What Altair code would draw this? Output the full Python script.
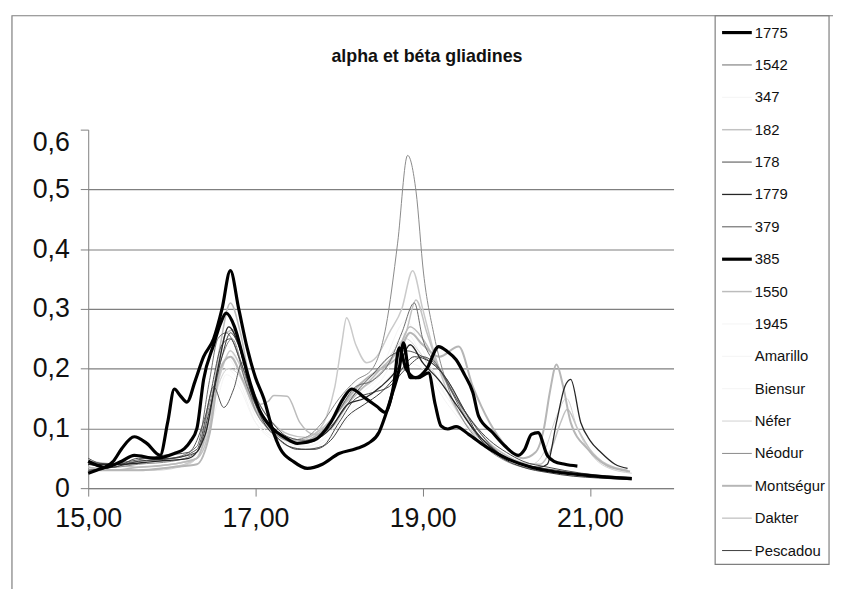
import altair as alt
import pandas as pd

# ---------------- series (legend order) ----------------
NAMES = ["1775", "1542", "347", "182", "178", "1779", "379", "385", "1550",
         "1945", "Amarillo", "Biensur", "Néfer", "Néodur", "Montségur",
         "Dakter", "Pescadou"]
TITLE = "alpha et béta gliadines"

# ---------------- data (retention time x, absorbance y) ----------------
X_1775 = [15.0, 15.1, 15.2, 15.3, 15.4, 15.55, 15.7, 15.86, 15.95, 16.03, 16.1, 16.18,
          16.28, 16.38, 16.5, 16.6, 16.7, 16.8, 16.9, 17.0, 17.1, 17.2, 17.3, 17.45,
          17.62, 17.8, 18.0, 18.2, 18.35, 18.48, 18.55, 18.64, 18.72, 18.77, 18.85,
          18.95, 19.07, 19.15, 19.22, 19.3, 19.4, 19.55, 19.75, 20.0, 20.3, 20.6, 21.0, 21.5]
Y_1775 = [0.025, 0.03, 0.035, 0.045, 0.066, 0.086, 0.075, 0.055, 0.11, 0.166, 0.155, 0.144,
          0.18, 0.22, 0.25, 0.3, 0.364, 0.3, 0.235, 0.185, 0.15, 0.1, 0.065, 0.045,
          0.033, 0.04, 0.058, 0.066, 0.075, 0.094, 0.12, 0.16, 0.2, 0.243, 0.185,
          0.185, 0.193, 0.14, 0.104, 0.099, 0.103, 0.09, 0.07, 0.05, 0.035, 0.027, 0.021, 0.016]

X_385 = [15.0, 15.2, 15.4, 15.55, 15.8, 16.03, 16.15, 16.22, 16.3, 16.38, 16.5, 16.58,
         16.65, 16.75, 16.85, 16.95, 17.05, 17.2, 17.35, 17.5, 17.7, 17.9, 18.05, 18.15,
         18.3, 18.45, 18.55, 18.65, 18.72, 18.8, 18.92, 19.05, 19.19, 19.3, 19.4, 19.5,
         19.6, 19.67, 19.83, 19.98, 20.14, 20.22, 20.3, 20.38, 20.49, 20.57, 20.7, 20.85]
Y_385 = [0.045, 0.035, 0.045, 0.055, 0.05, 0.058, 0.066, 0.078, 0.1, 0.182, 0.24, 0.275,
         0.293, 0.27, 0.22, 0.17, 0.13, 0.1, 0.085, 0.075, 0.08, 0.11, 0.15, 0.166,
         0.152, 0.137, 0.127, 0.17, 0.235, 0.2, 0.185, 0.2, 0.237, 0.228, 0.215, 0.19,
         0.16, 0.12, 0.094, 0.071, 0.055, 0.065, 0.09, 0.093, 0.055, 0.045, 0.04, 0.037]

X_1542 = [15.0, 15.3, 15.6, 16.0, 16.3, 16.45, 16.55, 16.65, 16.75, 16.9, 17.0, 17.2,
          17.4, 17.6, 17.8, 18.0, 18.2, 18.4, 18.6, 18.75, 18.9, 19.0, 19.2, 19.35,
          19.5, 19.7, 20.0, 20.3, 20.7, 21.0, 21.5]
Y_1542 = [0.045, 0.04, 0.045, 0.05, 0.07, 0.18, 0.25, 0.26, 0.24, 0.17, 0.14, 0.1,
          0.08, 0.075, 0.09, 0.13, 0.17, 0.18, 0.21, 0.26, 0.31, 0.25, 0.2, 0.16,
          0.12, 0.08, 0.05, 0.035, 0.025, 0.02, 0.015]

X_178 = [15.0, 15.3, 15.6, 16.0, 16.3, 16.45, 16.6, 16.7, 16.8, 17.0, 17.2, 17.4,
         17.6, 17.8, 18.0, 18.2, 18.4, 18.6, 18.8, 19.0, 19.2, 19.4, 19.6, 19.8,
         20.0, 20.2, 20.5, 20.9, 21.5]
Y_178 = [0.04, 0.035, 0.05, 0.05, 0.065, 0.15, 0.24, 0.25, 0.22, 0.145, 0.095, 0.07,
         0.065, 0.07, 0.11, 0.15, 0.16, 0.17, 0.2, 0.22, 0.2, 0.15, 0.11, 0.08,
         0.06, 0.045, 0.035, 0.025, 0.018]

X_1779 = [15.0, 15.4, 15.8, 16.2, 16.4, 16.55, 16.68, 16.8, 16.95, 17.1, 17.3, 17.5,
          17.7, 17.9, 18.1, 18.3, 18.5, 18.7, 18.85, 19.0, 19.2, 19.4, 19.6, 19.8,
          20.0, 20.2, 20.4, 20.49, 20.6, 20.7, 20.77, 20.89, 21.0, 21.13, 21.3, 21.45]
Y_1779 = [0.04, 0.04, 0.045, 0.05, 0.09, 0.2, 0.27, 0.24, 0.16, 0.12, 0.09, 0.075,
          0.08, 0.1, 0.14, 0.15, 0.17, 0.2, 0.24, 0.21, 0.18, 0.14, 0.1, 0.07,
          0.05, 0.04, 0.035, 0.04, 0.11, 0.17, 0.182, 0.11, 0.08, 0.06, 0.04, 0.033]

X_379 = [15.0, 15.2, 15.5, 15.9, 16.2, 16.4, 16.5, 16.62, 16.74, 16.84, 16.95, 17.05,
         17.2, 17.4, 17.6, 17.8, 18.0, 18.2, 18.4, 18.6, 18.8, 19.0, 19.25, 19.5,
         19.7, 19.9, 20.2, 20.6, 21.0, 21.5]
Y_379 = [0.05, 0.04, 0.045, 0.055, 0.06, 0.12, 0.17, 0.135, 0.166, 0.21, 0.17, 0.14,
         0.11, 0.085, 0.08, 0.09, 0.12, 0.16, 0.19, 0.22, 0.23, 0.22, 0.19, 0.13,
         0.09, 0.06, 0.04, 0.03, 0.022, 0.017]

X_182 = [15.0, 15.3, 15.6, 16.0, 16.3, 16.45, 16.55, 16.65, 16.75, 16.9, 17.05, 17.2,
         17.4, 17.6, 17.8, 18.0, 18.2, 18.4, 18.6, 18.8, 18.92, 19.05, 19.2, 19.4,
         19.6, 19.8, 20.0, 20.2, 20.4, 20.55, 20.65, 20.73, 20.85, 21.0, 21.2, 21.45]
Y_182 = [0.045, 0.04, 0.035, 0.04, 0.05, 0.1, 0.2, 0.26, 0.265, 0.19, 0.14, 0.11,
         0.09, 0.085, 0.1, 0.13, 0.16, 0.18, 0.21, 0.26, 0.315, 0.26, 0.2, 0.15,
         0.11, 0.075, 0.055, 0.042, 0.04, 0.07, 0.11, 0.132, 0.1, 0.065, 0.04, 0.03]

X_1550 = [15.0, 15.3, 15.6, 16.0, 16.3, 16.45, 16.58, 16.7, 16.82, 16.95, 17.05, 17.15,
          17.22, 17.38, 17.53, 17.7, 17.9, 18.1, 18.3, 18.5, 18.7, 18.85, 19.0, 19.2,
          19.4, 19.6, 19.8, 20.0, 20.3, 20.6, 21.0, 21.5]
Y_1550 = [0.035, 0.03, 0.035, 0.04, 0.05, 0.12, 0.24, 0.31, 0.26, 0.17, 0.14, 0.145,
          0.155, 0.154, 0.11, 0.09, 0.1, 0.14, 0.17, 0.2, 0.23, 0.27, 0.25, 0.2,
          0.15, 0.1, 0.07, 0.05, 0.035, 0.028, 0.022, 0.017]

X_NEFER = [15.0, 15.4, 15.8, 16.2, 16.4, 16.55, 16.68, 16.8, 17.0, 17.2, 17.4, 17.6,
           17.8, 18.0, 18.2, 18.4, 18.6, 18.8, 18.95, 19.1, 19.3, 19.5, 19.7, 20.0,
           20.3, 20.45, 20.6, 20.72, 20.85, 21.0, 21.2, 21.5]
Y_NEFER = [0.035, 0.03, 0.03, 0.04, 0.08, 0.17, 0.2, 0.19, 0.13, 0.1, 0.085, 0.08,
           0.1, 0.13, 0.17, 0.19, 0.22, 0.25, 0.23, 0.2, 0.16, 0.12, 0.085, 0.055,
           0.04, 0.06, 0.12, 0.15, 0.1, 0.06, 0.035, 0.025]

X_NEODUR = [15.0, 15.3, 15.6, 16.0, 16.3, 16.45, 16.6, 16.72, 16.85, 17.0, 17.2, 17.4,
            17.6, 17.8, 18.0, 18.2, 18.4, 18.56, 18.7, 18.82, 18.92, 19.01, 19.13, 19.3,
            19.5, 19.7, 20.0, 20.3, 20.6, 21.0, 21.5]
Y_NEODUR = [0.04, 0.035, 0.04, 0.045, 0.06, 0.14, 0.22, 0.25, 0.2, 0.13, 0.095, 0.08,
            0.085, 0.11, 0.15, 0.18, 0.2, 0.27, 0.41, 0.557, 0.497, 0.36, 0.26, 0.17,
            0.11, 0.075, 0.045, 0.032, 0.026, 0.02, 0.016]

X_MONTSEGUR = [15.0, 15.3, 15.6, 16.0, 16.3, 16.45, 16.58, 16.7, 16.85, 17.0, 17.15, 17.3,
               17.5, 17.7, 17.9, 18.1, 18.3, 18.5, 18.7, 18.85, 19.0, 19.2, 19.43, 19.6,
               19.8, 20.0, 20.2, 20.35, 20.45, 20.52, 20.6, 20.68, 20.77, 20.97, 21.2, 21.48]
Y_MONTSEGUR = [0.03, 0.03, 0.03, 0.035, 0.04, 0.09, 0.2, 0.22, 0.18, 0.13, 0.1, 0.085,
               0.075, 0.085, 0.11, 0.15, 0.18, 0.2, 0.22, 0.26, 0.24, 0.22, 0.237, 0.17,
               0.11, 0.07, 0.05, 0.06, 0.1, 0.16, 0.207, 0.17, 0.11, 0.066, 0.038, 0.028]

X_DAKTER = [15.0, 15.3, 15.6, 16.0, 16.3, 16.45, 16.6, 16.7, 16.8, 16.95, 17.1, 17.3,
            17.5, 17.7, 17.85, 17.95, 18.03, 18.09, 18.2, 18.33, 18.45, 18.6, 18.75, 18.88,
            19.0, 19.15, 19.3, 19.5, 19.8, 20.1, 20.4, 20.8, 21.2, 21.5]
Y_DAKTER = [0.035, 0.03, 0.03, 0.035, 0.05, 0.12, 0.2, 0.23, 0.21, 0.15, 0.11, 0.09,
            0.08, 0.09, 0.12, 0.17, 0.24, 0.285, 0.24, 0.21, 0.22, 0.26, 0.3, 0.364,
            0.3, 0.22, 0.16, 0.11, 0.07, 0.045, 0.033, 0.025, 0.02, 0.017]

X_PESCADOU = [15.0, 15.3, 15.6, 16.0, 16.3, 16.45, 16.6, 16.7, 16.82, 16.95, 17.1, 17.3,
              17.5, 17.7, 17.9, 18.1, 18.3, 18.5, 18.7, 18.9, 19.1, 19.3, 19.5, 19.7,
              19.9, 20.2, 20.5, 20.8, 21.1, 21.5]
Y_PESCADOU = [0.03, 0.035, 0.045, 0.05, 0.06, 0.13, 0.22, 0.26, 0.23, 0.16, 0.11, 0.08,
              0.065, 0.065, 0.08, 0.12, 0.14, 0.16, 0.19, 0.22, 0.21, 0.18, 0.13, 0.08,
              0.055, 0.035, 0.026, 0.02, 0.017, 0.014]

X_PALE = [15.0, 15.5, 16.0, 16.3, 16.5, 16.65, 16.8, 17.0, 17.3, 17.6, 17.9, 18.2,
          18.5, 18.8, 19.0, 19.3, 19.6, 20.0, 20.5, 21.0, 21.5]
Y_347 = [0.04, 0.035, 0.04, 0.06, 0.16, 0.22, 0.19, 0.12, 0.08, 0.07, 0.09, 0.14,
         0.18, 0.24, 0.21, 0.15, 0.1, 0.05, 0.03, 0.022, 0.017]
Y_1945 = [0.035, 0.03, 0.035, 0.05, 0.14, 0.2, 0.18, 0.11, 0.075, 0.065, 0.085, 0.13,
          0.17, 0.21, 0.2, 0.14, 0.09, 0.048, 0.03, 0.021, 0.016]
Y_AMARILLO = [0.04, 0.035, 0.04, 0.055, 0.15, 0.24, 0.2, 0.13, 0.085, 0.075, 0.1, 0.15,
              0.19, 0.26, 0.22, 0.16, 0.1, 0.052, 0.032, 0.023, 0.017]
Y_BIENSUR = [0.03, 0.03, 0.035, 0.05, 0.12, 0.19, 0.17, 0.11, 0.08, 0.07, 0.095, 0.16,
             0.2, 0.28, 0.23, 0.15, 0.095, 0.05, 0.03, 0.021, 0.016]

SERIES_X = {"1775": X_1775, "1542": X_1542, "347": X_PALE, "182": X_182, "178": X_178,
            "1779": X_1779, "379": X_379, "385": X_385, "1550": X_1550, "1945": X_PALE,
            "Amarillo": X_PALE, "Biensur": X_PALE, "Néfer": X_NEFER, "Néodur": X_NEODUR,
            "Montségur": X_MONTSEGUR, "Dakter": X_DAKTER, "Pescadou": X_PESCADOU}
SERIES_Y = {"1775": Y_1775, "1542": Y_1542, "347": Y_347, "182": Y_182, "178": Y_178,
            "1779": Y_1779, "379": Y_379, "385": Y_385, "1550": Y_1550, "1945": Y_1945,
            "Amarillo": Y_AMARILLO, "Biensur": Y_BIENSUR, "Néfer": Y_NEFER, "Néodur": Y_NEODUR,
            "Montségur": Y_MONTSEGUR, "Dakter": Y_DAKTER, "Pescadou": Y_PESCADOU}

Y_TICKS = [0, 0.1, 0.2, 0.3, 0.4, 0.5, 0.6]
X_TICKS = [15, 17, 19, 21]

# ---------------- styles ----------------
COLORS = ["#000000", "#6a6a6a", "#f4f4f4", "#c2c2c2", "#4a4a4a", "#262626", "#555555",
          "#000000", "#bcbcbc", "#f4f4f4", "#f4f4f4", "#f4f4f4", "#d0d0d0", "#8a8a8a",
          "#b6b6b6", "#cacaca", "#3c3c3c"]
WIDTHS = [3.2, 1.0, 1.0, 1.5, 1.0, 1.3, 1.0, 3.2, 1.5, 1.0, 1.0, 1.0, 1.0, 1.0, 2.0, 1.5, 1.0]
DRAW_ORDER = ["347", "1945", "Amarillo", "Biensur", "Néfer", "Dakter", "182", "1550",
              "Montségur", "Néodur", "1542", "379", "178", "Pescadou", "1779", "385", "1775"]

rows = []
for order, name in enumerate(DRAW_ORDER):
    w = WIDTHS[NAMES.index(name)]
    for xv, yv in zip(SERIES_X[name], SERIES_Y[name]):
        rows.append({"series": name, "t": xv, "v": yv, "w": w, "o": order})
df = pd.DataFrame(rows)
leg_df = pd.DataFrame({"series": NAMES, "w": WIDTHS})

FONT = "Liberation Sans"
NARROW = "Liberation Sans Narrow, Arial Narrow, Liberation Sans"
GRAY = "#7f7f7f"

color_scale = alt.Scale(domain=NAMES, range=COLORS)

lines = alt.Chart(df).mark_line(interpolate="monotone", strokeJoin="round").encode(
    x=alt.X("t:Q", scale=alt.Scale(domain=[15, 22], nice=False, zero=False),
            axis=alt.Axis(values=X_TICKS, title=None, grid=False, tickSize=8,
                          labelPadding=10, labelFontSize=27, labelFont=FONT,
                          labelColor="#111111", labelFlush=False,
                          labelExpr="replace(format(datum.value, '.2f'), '.', ',')")),
    y=alt.Y("v:Q", scale=alt.Scale(domain=[0, 0.6], nice=False),
            axis=alt.Axis(values=Y_TICKS, title=None, grid=True, tickSize=8,
                          labelPadding=11, labelFontSize=27, labelFont=FONT,
                          labelColor="#111111", labelFlush=False,
                          labelBaseline={"condition": {"test": "datum.value > 0.55",
                                                       "value": "top"},
                                         "value": "middle"},
                          gridOpacity={"condition": {"test": "datum.value > 0.55", "value": 0},
                                       "value": 1},
                          labelExpr="datum.value == 0 ? '0' : replace(format(datum.value, '.1f'), '.', ',')")),
    color=alt.Color("series:N", scale=color_scale, legend=None),
    strokeWidth=alt.StrokeWidth("w:Q", scale=None, legend=None),
    order=alt.Order("o:Q"),
    detail="series:N",
)

# outer frame of the chart object
frame = alt.Chart(pd.DataFrame({"k": [0]})).mark_rect(
    filled=False, stroke=GRAY, strokeWidth=1.2
).encode(x=alt.value(-77), x2=alt.value(780), y=alt.value(-115), y2=alt.value(480))

title = alt.Chart(pd.DataFrame({"label": [TITLE]})).mark_text(
    font=FONT, fontSize=18, fontWeight="bold", color="#111111",
    align="center", baseline="middle"
).encode(text="label:N", x=alt.value(342), y=alt.value(-73))

# legend built from the series table
leg_y = alt.Y("series:N", sort=NAMES,
              scale=alt.Scale(type="point", domain=NAMES, range=[-98, 425], padding=0),
              axis=None)
leg_box = alt.Chart(pd.DataFrame({"k": [0]})).mark_rect(
    filled=False, stroke=GRAY, strokeWidth=1.2
).encode(x=alt.value(633), x2=alt.value(748), y=alt.value(-115), y2=alt.value(439))
leg_sym = alt.Chart(leg_df).mark_rule().encode(
    y=leg_y, x=alt.value(640), x2=alt.value(670),
    color=alt.Color("series:N", scale=color_scale, legend=None),
    strokeWidth=alt.StrokeWidth("w:Q", scale=None, legend=None),
)
leg_txt = alt.Chart(leg_df).mark_text(
    align="left", baseline="middle", font=NARROW, fontSize=15, color="#111111"
).encode(y=leg_y, x=alt.value(673), text="series:N")
legend = alt.layer(leg_box, leg_sym, leg_txt)

chart = alt.layer(frame, title, lines, legend).resolve_scale(y="independent").properties(
    width=591, height=362,
    padding={"left": 81, "top": 120, "right": 161, "bottom": 99},
    autosize=alt.AutoSizeParams(type="none"),
    background="white",
).configure_view(stroke=None).configure_axis(
    domainColor=GRAY, tickColor=GRAY, gridColor=GRAY, gridWidth=1.2
)

chart.save("out.html", embed_options={"renderer": "svg", "actions": False})
